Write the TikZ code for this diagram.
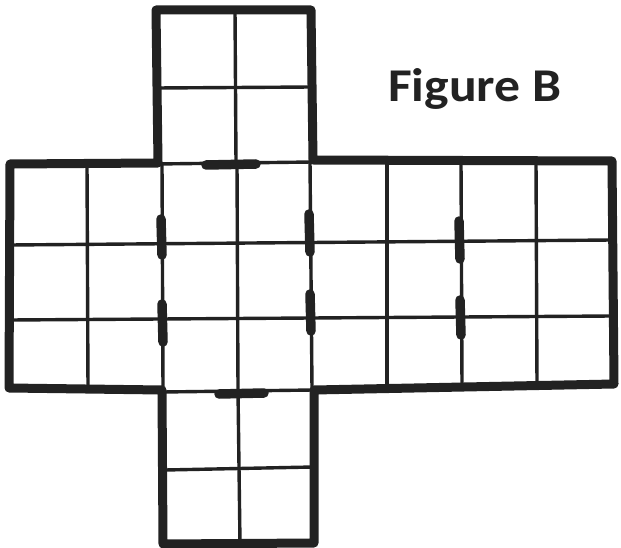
\documentclass[tikz,border=0pt]{standalone}
\usepackage{fontspec}
\setmainfont{Carlito}
\usetikzlibrary{positioning}

\definecolor{ink}{RGB}{34,34,34}

\tikzset{
    outline/.style={draw=ink, line width=9pt, line join=round},
    gridline/.style={draw=ink, line width=3.4pt, line cap=round},
    foldmark/.style={draw=ink, line width=9.5pt, line cap=round},
}

\begin{document}
\begin{tikzpicture}[x=1pt, y=-1pt]
    \useasboundingbox (0,0) rectangle (621,548);

    % Thin grid lines, top face
    \draw[gridline] (235,10) -- (236,163);
    \draw[gridline] (157,88) -- (312,87);

    % Thin grid lines, middle band
    \draw[gridline] (157,164) -- (312,162);
    \draw[gridline] (10,245) -- (612,240);
    \draw[gridline] (10,320) -- (612,316);
    \draw[gridline] (87,163) -- (88,389);
    \draw[gridline] (162,163) -- (163,389);
    \draw[gridline] (237,163) -- (238,389);
    \draw[gridline] (310,161) -- (312,389);
    \draw[gridline] (387,161) -- (387,387);
    \draw[gridline] (461,161) -- (462,387);
    \draw[gridline] (536,161) -- (537,386);

    % Thin grid lines, bottom face
    \draw[gridline] (163,392) -- (313,390);
    \draw[gridline] (238,391) -- (240,543);
    \draw[gridline] (165,470) -- (313,467);

    % Thick outline of the net
    \draw[outline] (156,10) -- (311,10) -- (313,160) -- (612,161)
        -- (614,384) -- (314,390) -- (314,543) -- (163,544)
        -- (162,390) -- (9,388) -- (10,164) -- (158,163) -- cycle;

    % Marks on the folds
    \draw[foldmark] (206,165) -- (256,164);
    \draw[foldmark] (219,394) -- (264,393);
    \draw[foldmark] (161,219) -- (162,255);
    \draw[foldmark] (162,304) -- (163,342);
    \draw[foldmark] (309,214) -- (310,252);
    \draw[foldmark] (310,294) -- (311,331);
    \draw[foldmark] (459,221) -- (460,259);
    \draw[foldmark] (460,300) -- (461,335);

    % Title
    \node[text=ink, anchor=base west, inner sep=0pt, xscale=1.1,
        font=\bfseries\fontsize{47}{50}\selectfont] (title) at (388,102) {Figure B};

\end{tikzpicture}
\end{document}
